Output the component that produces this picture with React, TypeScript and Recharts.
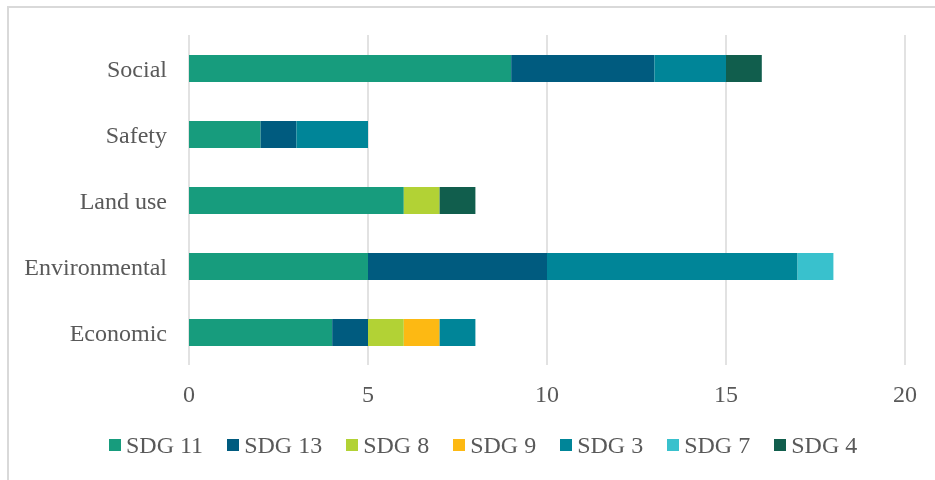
import React from 'react';
import { BarChart, Bar, XAxis, YAxis, CartesianGrid, Legend } from 'recharts';

const categories = ['Social', 'Safety', 'Land use', 'Environmental', 'Economic'];
const sdg11 = [9, 2, 6, 5, 4];
const sdg13 = [4, 1, 0, 5, 1];
const sdg8 = [0, 0, 1, 0, 1];
const sdg9 = [0, 0, 0, 0, 1];
const sdg3 = [2, 2, 0, 7, 1];
const sdg7 = [0, 0, 0, 1, 0];
const sdg4 = [1, 0, 1, 0, 0];
const xTicks = [0, 5, 10, 15, 20];

const series = [
  { key: 'SDG 11', values: sdg11, color: '#179c7d' },
  { key: 'SDG 13', values: sdg13, color: '#005b7f' },
  { key: 'SDG 8', values: sdg8, color: '#b2d235' },
  { key: 'SDG 9', values: sdg9, color: '#fdb913' },
  { key: 'SDG 3', values: sdg3, color: '#008598' },
  { key: 'SDG 7', values: sdg7, color: '#39c1cd' },
  { key: 'SDG 4', values: sdg4, color: '#115e4d' },
];

const data = categories.map((name, i) => {
  const row: Record<string, any> = { name };
  series.forEach((s) => {
    row[s.key] = s.values[i];
  });
  return row;
});

const FONT = '"Liberation Serif", "Times New Roman", serif';
const TEXT = '#595959';

const LegendContent = () => (
  <div
    style={{
      display: 'flex',
      alignItems: 'center',
      height: 30,
      paddingLeft: 101,
      fontFamily: FONT,
      fontSize: 24,
      color: TEXT,
      whiteSpace: 'nowrap',
    }}
  >
    {series.map((s) => (
      <div key={s.key} style={{ display: 'flex', alignItems: 'center', marginRight: 24 }}>
        <span style={{ display: 'inline-block', width: 12, height: 12, background: s.color, marginRight: 5 }} />
        <span style={{ lineHeight: '30px' }}>{s.key}</span>
      </div>
    ))}
  </div>
);

export default function App() {
  return (
    <div style={{ position: 'relative', width: 927, height: 472 }}>
      <div
        style={{
          position: 'fixed',
          left: 7,
          top: 6,
          width: 940,
          height: 480,
          borderLeft: '2px solid #d9d9d9',
          borderTop: '2px solid #d9d9d9',
          pointerEvents: 'none',
        }}
      />
      <BarChart
        width={927}
        height={472}
        data={data}
        layout="vertical"
        margin={{ top: 27, right: 30, left: 0, bottom: 45 }}
      >
        <CartesianGrid horizontal={false} stroke="#d9d9d9" strokeWidth={1.5} />
        <XAxis
          type="number"
          domain={[0, 20]}
          ticks={xTicks}
          axisLine={false}
          tickLine={false}
          tickSize={0}
          tickMargin={20}
          height={40}
          tick={{ fill: TEXT, fontFamily: FONT, fontSize: 24 }}
          interval={0}
        />
        <YAxis
          type="category"
          dataKey="name"
          width={181}
          axisLine={false}
          tickLine={false}
          tickSize={0}
          tickMargin={22}
          tick={{ fill: TEXT, fontFamily: FONT, fontSize: 24 }}
          interval={0}
        />
        <Legend
          verticalAlign="bottom"
          height={30}
          content={<LegendContent />}
          wrapperStyle={{ left: 0, bottom: 20, width: 927, height: 30 }}
        />
        {series.map((s) => (
          <Bar
            key={s.key}
            dataKey={s.key}
            stackId="a"
            fill={s.color}
            barSize={27}
            isAnimationActive={false}
          />
        ))}
      </BarChart>
    </div>
  );
}
